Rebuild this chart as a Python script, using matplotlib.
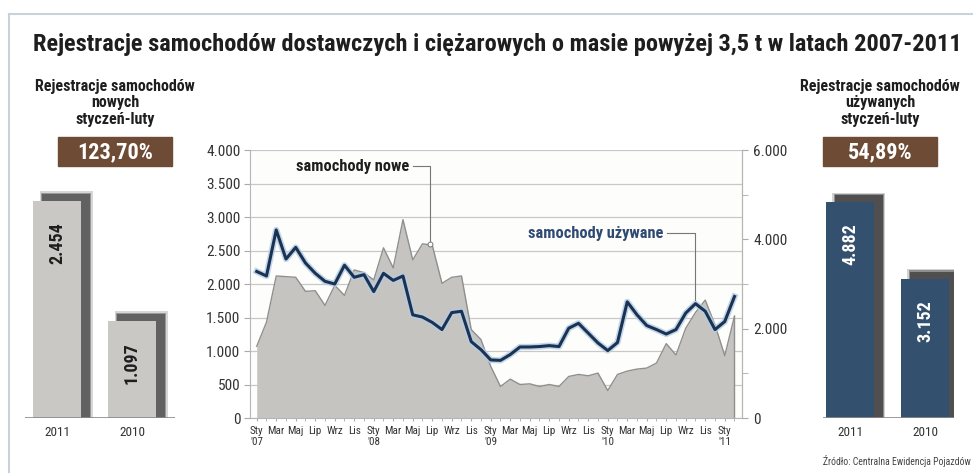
import matplotlib
matplotlib.use("Agg")
import matplotlib.pyplot as plt
from matplotlib import font_manager as fm
from matplotlib.patches import Rectangle
from matplotlib.lines import Line2D
import numpy as np

# ---- data -------------------------------------------------------------
# monthly registrations, Jan 2007 .. Feb 2011
new_cars = [1070, 1430, 2120, 2110, 2100, 1890, 1900, 1680, 1980, 1830,
            2210, 2170, 2060, 2540, 2240, 2960, 2360, 2600, 2580, 2010,
            2100, 2120, 1320, 1170, 770, 470, 580, 500, 510, 470,
            500, 470, 620, 650, 630, 670, 410, 650, 700, 730,
            745, 820, 1110, 940, 1340, 1575, 1760, 1390, 930, 1520]
used_cars = [3280, 3180, 4210, 3560, 3820, 3470, 3240, 3060, 3000, 3420,
             3150, 3210, 2830, 3240, 3080, 3180, 2310, 2260, 2140, 1980,
             2360, 2390, 1710, 1530, 1300, 1290, 1420, 1590, 1590, 1600,
             1620, 1600, 2010, 2120, 1900, 1680, 1510, 1690, 2600, 2310,
             2070, 1980, 1880, 1980, 2350, 2560, 2390, 1980, 2160, 2720]
tick_months = ["Sty", "Mar", "Maj", "Lip", "Wrz", "Lis"]
years = ["'07", "'08", "'09", "'10", "'11"]

bar_years = ["2011", "2010"]
new_jan_feb = [2454, 1097]
used_jan_feb = [4882, 3152]
new_change = "123,70%"
used_change = "54,89%"

TITLE = "Rejestracje samochodów dostawczych i ciężarowych o masie powyżej 3,5 t w latach 2007-2011"


def pick_font(cands):
    for c in cands:
        try:
            fm.findfont(fm.FontProperties(family=c), fallback_to_default=False)
            return c
        except ValueError:
            pass
    return "DejaVu Sans"


FONT = pick_font(["Liberation Sans Narrow", "DejaVu Sans Condensed",
                  "Roboto Condensed", "Liberation Sans"])
plt.rcParams["font.family"] = [FONT, "DejaVu Sans"]

W, H = 973, 473
fig = plt.figure(figsize=(W / 100, H / 100), dpi=100)
fig.patch.set_facecolor("white")


def fx(x):
    return x / W


def fy(y):
    return 1 - y / H


def box(x0, y0, x1, y1):
    return [fx(x0), fy(y1), fx(x1) - fx(x0), fy(y0) - fy(y1)]


DARK = "#1e1e1e"
NAVY = "#1b3252"
BROWN = "#6d4b35"

# frame lines
fig.add_artist(Line2D([fx(9), fx(973)], [fy(14), fy(14)], color="#c9d2da", lw=1.5))
fig.add_artist(Line2D([fx(9), fx(9)], [fy(14), fy(473)], color="#c9d2da", lw=1.5))

fig.text(fx(33), fy(45), TITLE, fontsize=17.6, fontweight="bold", color=DARK,
         va="center", ha="left")

# ---- headings and change boxes -----------------------------------------
for cx, lines, val in [(115, "Rejestracje samochodów\nnowych\nstyczeń-luty", new_change),
                       (880, "Rejestracje samochodów\nużywanych\nstyczeń-luty", used_change)]:
    fig.text(fx(cx), fy(103), lines, ha="center", va="center", fontsize=11.5,
             fontweight="bold", color=DARK, linespacing=1.1)
    fig.add_artist(Rectangle((fx(cx - 57), fy(166)), fx(114), 29 / H,
                             transform=fig.transFigure, color=BROWN))
    fig.text(fx(cx), fy(152), val, ha="center", va="center", fontsize=16,
             fontweight="bold", color="white")


# ---- side bar panels ----------------------------------------------------
def bar_panel(rect, xlim, ymax, values, face, shadow, txtcol):
    ax = fig.add_axes(rect)
    ax.set_xlim(*xlim)
    ax.set_ylim(0, ymax)
    xs = np.arange(len(values))
    upp = ymax / (rect[3] * H)          # data units per pixel
    xpp = (xlim[1] - xlim[0]) / (rect[2] * W)
    for grow, a in [(2.5, 0.25), (1.2, 0.5), (0.0, 0.95)]:
        ax.bar(xs + 9 * xpp, [v + (7 + grow) * upp for v in values],
               width=0.64 + 2 * grow * xpp, bottom=0,
               color=shadow, alpha=a, zorder=1, linewidth=0)
    ax.bar(xs, values, width=0.64, color=face, zorder=2, linewidth=0)
    for x, v in zip(xs, values):
        ax.text(x, v - 42 * upp, f"{v:,}".replace(",", "."), rotation=90,
                ha="center", va="center", fontsize=13, fontweight="bold",
                color=txtcol, zorder=3)
    ax.axhline(0, color="#8a8a8a", lw=1.2, zorder=4)
    ax.set_xticks(xs)
    ax.set_xticklabels(bar_years, fontsize=9.5, color="#333333")
    ax.tick_params(length=0, pad=6)
    ax.set_yticks([])
    for s in ax.spines.values():
        s.set_visible(False)
    ax.patch.set_alpha(0)
    return ax


bar_panel(box(25, 180, 175, 418), (-0.427, 1.573), 238 / 0.0885, new_jan_feb,
          "#c9c8c5", "#5e5e5e", DARK)
bar_panel(box(823, 180, 954, 418), (-0.36, 1.387), 238 / 0.0442, used_jan_feb,
          "#34506f", "#4c4c4c", "white")

fig.text(fx(823), fy(461), "Źródło: Centralna Ewidencja Pojazdów", fontsize=7,
         color="#444444", va="center", ha="left")

# ---- central chart ------------------------------------------------------
ax = fig.add_axes(box(250, 150, 742, 418))
n = len(new_cars)
x = np.arange(n)
ax.set_xlim(-0.69, 49.77)
ax.set_ylim(0, 4000)
ax.set_facecolor("#fdfdfb")
ax.fill_between(x, new_cars, 0, color="#c6c4c1", zorder=2, linewidth=0)
ax.plot(x, new_cars, color="#8f8f8f", lw=1.0, zorder=3)
ax.plot([x[-1], x[-1]], [0, new_cars[-1]], color="#8f8f8f", lw=1.0, zorder=3)
ax.set_yticks(np.arange(0, 4001, 500))
ax.set_yticklabels([f"{v:,}".replace(",", ".") for v in range(0, 4001, 500)],
                   fontsize=11, color="#333333")
ax.grid(axis="y", color="#c8c8c8", lw=0.9, zorder=0)
ax.set_axisbelow(True)
ax.set_xticks(np.arange(0, n, 2))
labels = []
for i in range(0, n, 2):
    m = tick_months[(i % 12) // 2]
    labels.append(m + "\n" + years[i // 12] if i % 12 == 0 else m)
ax.set_xticklabels(labels, fontsize=8, color="#333333", linespacing=1.2)
ax.set_xticks(x, minor=True)
ax.tick_params(axis="x", which="both", length=2.5, color="#aaaaaa", pad=3)
ax.tick_params(axis="y", length=4, color="#aaaaaa", pad=3)
ax.spines["top"].set_visible(False)
for s in ["left", "right", "bottom"]:
    ax.spines[s].set_color("#b5b5b5")

ax2 = ax.twinx()
ax2.set_ylim(0, 6000)
ax2.plot(x, used_cars, color="#b3cde6", lw=4.5, alpha=0.8, zorder=4,
         solid_joinstyle="round")
ax2.plot(x, used_cars, color=NAVY, lw=2.2, zorder=5, solid_joinstyle="round")
ax2.set_yticks([0, 2000, 4000, 6000])
ax2.set_yticklabels(["0", "2.000", "4.000", "6.000"], fontsize=11, color="#333333")
ax2.set_yticks([1000, 3000, 5000], minor=True)
ax2.tick_params(axis="y", which="both", length=4, color="#aaaaaa", pad=4)
for s in ["top", "left", "bottom"]:
    ax2.spines[s].set_visible(False)
ax2.spines["right"].set_color("#b5b5b5")

# annotations with leader lines
ax.text(15.6, 3760, "samochody nowe", ha="right", va="center", fontsize=11.8,
        fontweight="bold", color=DARK, zorder=6)
ax.plot([16.0, 17.8, 17.8], [3760, 3760, new_cars[18] + 20], color="#777777",
        lw=0.8, zorder=6)
ax.plot([17.8], [new_cars[18] + 20], marker="o", ms=3.5, mfc="white",
        mec="#777777", mew=0.7, zorder=7)
ax2.text(41.7, 4140, "samochody używane", ha="right", va="center", fontsize=11.8,
         fontweight="bold", color="#2f4a72", zorder=6)
ax2.plot([42.1, 45.0, 45.0], [4140, 4140, used_cars[45] + 80], color="#777777",
         lw=0.8, zorder=6)

fig.savefig("out.png", dpi=100, facecolor="white")
